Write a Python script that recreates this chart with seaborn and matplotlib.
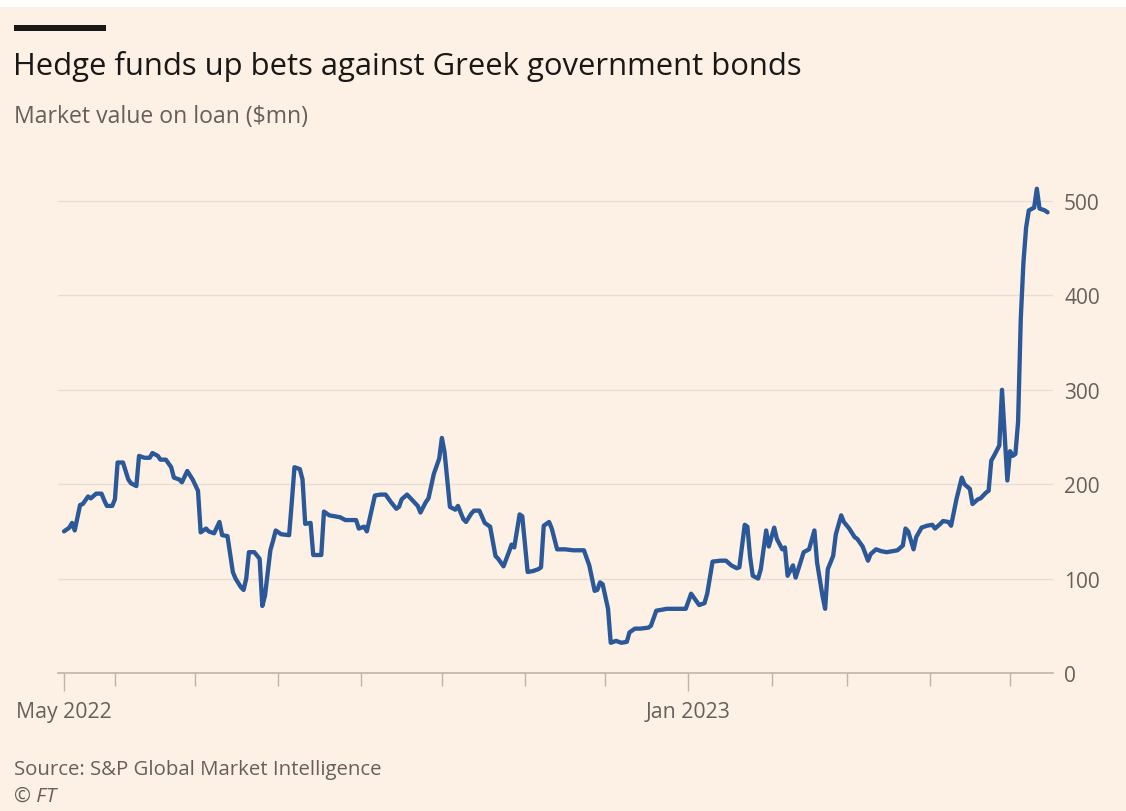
import matplotlib
matplotlib.use("Agg")
import matplotlib.pyplot as plt
import matplotlib.dates as mdates
from matplotlib.patches import Rectangle
import numpy as np
import pandas as pd
import seaborn as sns

# Market value of Greek government bonds on loan ($mn), day offsets from the first observation
start_date = "2022-05-13"
day_offsets = [
    0, 2, 3, 4, 6, 7, 9, 10, 12, 14, 15, 16, 18, 19, 20, 22, 24, 25, 27, 28,
    30, 32, 33, 35, 36, 38, 40, 41, 43, 44, 46, 48, 50, 51, 53, 54, 56, 58, 59,
    61, 63, 64, 66, 67, 68, 69, 71, 73, 74, 75, 77, 78, 79, 81, 84, 85, 86, 88, 89,
    90, 92, 93, 95, 96, 97, 99, 101, 103, 105, 107, 109, 110, 112, 113, 115, 116, 118, 120,
    122, 124, 125, 126, 128, 130, 132, 133, 135, 136, 138, 140, 141, 142, 144, 146, 147, 149, 150, 152,
    153, 155, 157, 159, 161, 162, 164, 166, 167, 168, 170, 171, 173, 175, 177,
    178, 179, 181, 182, 184, 187, 190, 194, 196, 198, 199, 200, 201, 203, 204, 206, 208, 210, 211, 213,
    215, 218, 219, 221, 223, 225, 229, 232, 234, 235, 237,
    239, 240, 242, 245, 247, 249, 251, 252, 254, 255, 256, 257, 259, 260, 262, 263, 265, 266, 268, 269,
    270, 272, 273, 275, 276, 278, 280, 281, 283, 284, 285, 287, 288, 290, 291, 293, 295, 296, 298,
    300, 301, 303, 305, 307, 309, 311, 313, 314, 315, 317, 318, 320, 322, 324, 325, 327, 328, 330, 331,
    333, 335, 336, 338, 339, 341, 342, 344, 345, 346, 347, 349, 350, 352, 353, 354, 355, 356, 357, 358,
    359, 360, 362, 363, 364, 366, 367,
]
market_value = [
    150, 154, 159, 151, 178, 179, 187, 185, 190, 190, 183, 177, 177, 184, 223, 223, 205, 201, 198, 230,
    228, 228, 233, 230, 226, 226, 218, 207, 205, 202, 214, 205, 193, 149, 153, 150, 148, 160, 146,
    145, 107, 100, 91, 88, 100, 128, 128, 121, 71, 82, 130, 140, 151, 147, 146, 181, 218, 216, 205,
    158, 159, 125, 125, 125, 171, 167, 166, 165, 162, 162, 162, 153, 155, 150, 175, 188, 189, 189,
    181, 174, 176, 184, 189, 183, 177, 170, 181, 185, 211, 227, 249, 234, 176, 173, 177, 163, 160, 169,
    172, 172, 159, 155, 124, 121, 113, 128, 136, 133, 168, 166, 107, 108, 110,
    112, 156, 160, 153, 131, 131, 130, 130, 114, 87, 88, 96, 94, 68, 32, 34, 32, 33, 43, 47,
    47, 48, 50, 66, 67, 68, 68, 68, 84, 80, 72,
    74, 84, 118, 119, 119, 114, 111, 112, 157, 155, 123, 103, 100, 110, 151, 134, 154, 142, 131, 133,
    103, 114, 101, 119, 128, 131, 151, 117, 82, 68, 110, 124, 147, 167, 160, 153, 144, 142, 134,
    119, 126, 131, 129, 128, 129, 130, 135, 153, 150, 131, 144, 154, 156, 157, 153, 158, 161, 160, 156,
    184, 207, 200, 195, 179, 184, 185, 191, 193, 225, 230, 241, 300, 204, 235, 230, 232, 266, 375, 435,
    472, 490, 493, 513, 492, 490, 488,
]
y_ticks = [0, 100, 200, 300, 400, 500]
labelled_dates = ["2022-05-13", "2023-01-01"]
labelled_names = ["May 2022", "Jan 2023"]

title = "Hedge funds up bets against Greek government bonds"
subtitle = "Market value on loan ($mn)"
source = "Source: S&P Global Market Intelligence"
credit = "\u00a9 FT"

PAPER = "#FDF0E5"
LINE = "#2A5898"
GREY_TEXT = "#66605C"
GRID = "#E9DDD2"
AXIS = "#BDB4AC"

df = pd.DataFrame({
    "date": pd.to_datetime(start_date) + pd.to_timedelta(day_offsets, unit="D"),
    "value": market_value,
})

sns.set_theme(style="white")
plt.rcParams["font.family"] = ["Open Sans", "DejaVu Sans"]

W, H = 1126, 812
fig = plt.figure(figsize=(W / 100, H / 100), dpi=100, facecolor=PAPER)

# axes placed in pixel terms: left 58, right 1053, zero line at y=674, 94.4 px per 100
px_per_unit = 0.944
y_top = 540
ax_left, ax_right, ax_zero = 58, 1053, 674
ax = fig.add_axes([ax_left / W, (H - ax_zero) / H, (ax_right - ax_left) / W,
                   y_top * px_per_unit / H])
ax.set_facecolor(PAPER)

sns.lineplot(data=df, x="date", y="value", ax=ax, color=LINE, linewidth=3.1,
             solid_joinstyle="round", solid_capstyle="round")

t0 = pd.to_datetime(start_date)
px_per_day = 2.68
ax.set_xlim(t0 - pd.Timedelta(days=(64 - ax_left) / px_per_day),
            t0 + pd.Timedelta(days=(ax_right - 64) / px_per_day))
ax.set_ylim(0, y_top)

ax.set_xlabel("")
ax.set_ylabel("")

# y axis on the right with light gridlines
ax.yaxis.tick_right()
ax.set_yticks(y_ticks)
ax.set_yticklabels([str(v) for v in y_ticks])
ax.tick_params(axis="y", length=0, pad=8, labelsize=15, labelcolor=GREY_TEXT)
ax.grid(axis="y", color=GRID, linewidth=1.0)
ax.grid(axis="x", visible=False)

# monthly minor ticks, labelled major ticks at start and January
ax.set_xticks(pd.to_datetime(labelled_dates))
ax.set_xticklabels(labelled_names)
ax.xaxis.set_minor_locator(mdates.MonthLocator())
ax.tick_params(axis="x", which="major", length=13, width=1, color=AXIS, pad=7.5,
               labelsize=15.3, labelcolor=GREY_TEXT, bottom=True)
ax.tick_params(axis="x", which="minor", length=9, width=1, color=AXIS, bottom=True)

for side in ("top", "right", "left"):
    ax.spines[side].set_visible(False)
ax.spines["bottom"].set_color(AXIS)
ax.spines["bottom"].set_linewidth(1.2)

# header: thin white band, black rule, title and subtitle
fig.add_artist(Rectangle((0, 1 - 8 / H), 1, 8 / H, transform=fig.transFigure,
                         facecolor="white", edgecolor="none"))
fig.add_artist(Rectangle((14 / W, 1 - 32 / H), 92 / W, 6 / H, transform=fig.transFigure,
                         facecolor="#1A1817", edgecolor="none"))
fig.text(13 / W, 1 - 66 / H, title, fontsize=22.3, color="#1A1817", va="center", ha="left")
fig.text(14 / W, 1 - 117 / H, subtitle, fontsize=16.6, color=GREY_TEXT, va="center", ha="left")

# footer
fig.text(14 / W, 1 - 770 / H, source, fontsize=14.7, color=GREY_TEXT, va="center", ha="left")
fig.text(14 / W, 1 - 797 / H, credit, fontsize=14.7, color=GREY_TEXT, va="center", ha="left",
         style="italic")

fig.savefig("out.png", dpi=100, facecolor=PAPER)
